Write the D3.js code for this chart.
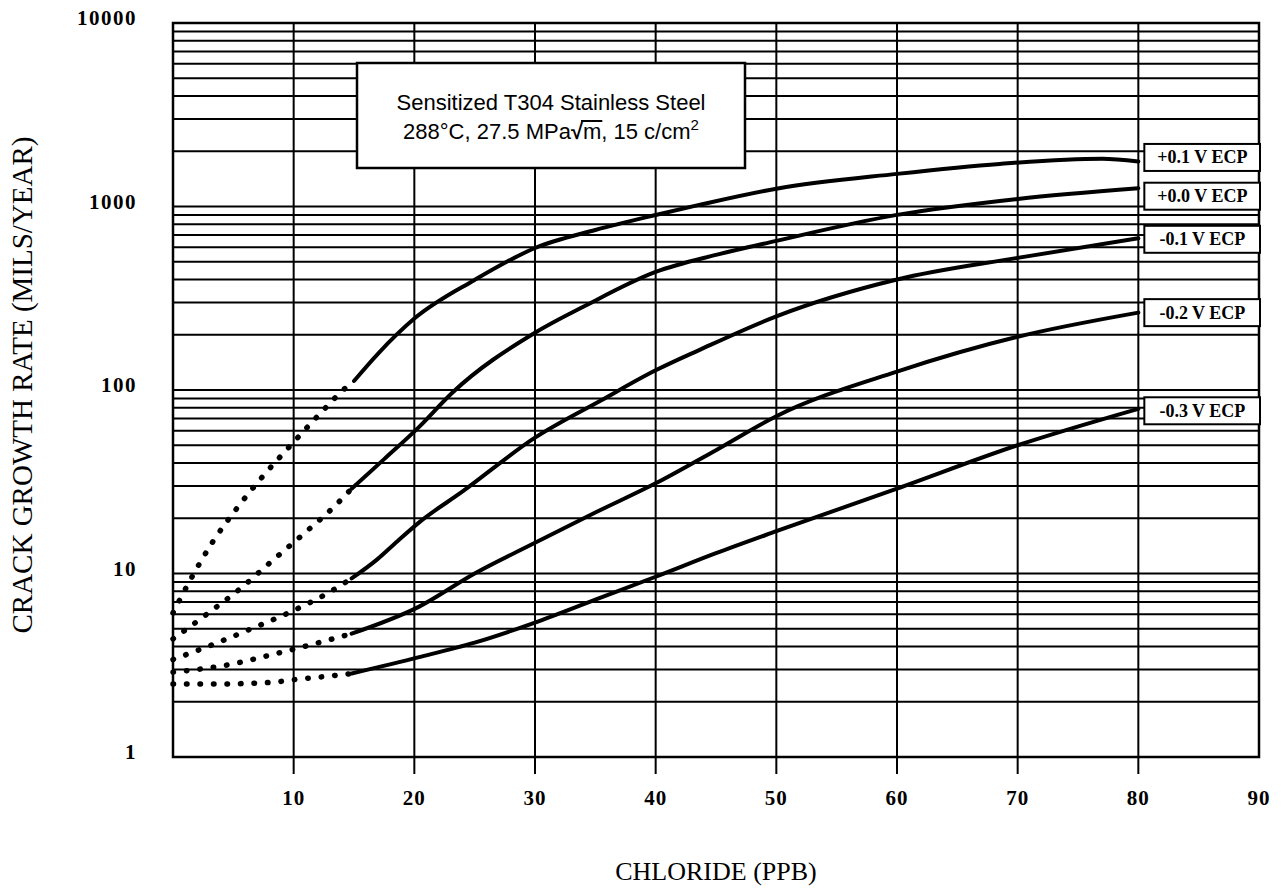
<!DOCTYPE html>
<html lang="en">
<head>
<meta charset="utf-8">
<title>Crack Growth Rate vs Chloride</title>
<script src="https://cdn.jsdelivr.net/npm/d3@7"></script>
<style>
  body { margin: 0; background: #fff; }
  .tick-label { font-family: "Liberation Serif", "Times New Roman", serif; font-weight: bold; font-size: 21px; fill: #000; }
  .axis-title { font-family: "Liberation Serif", "Times New Roman", serif; font-size: 26px; fill: #000; }
  .y-title { font-size: 29px; }
  .note { font-family: "Liberation Sans", Arial, sans-serif; font-size: 22px; fill: #000; }
  .ecp-label { font-family: "Liberation Serif", "Times New Roman", serif; font-weight: bold; font-size: 18px; fill: #000; }
</style>
</head>
<body>
<script>
  // tick labels
  var xTicks = [10, 20, 30, 40, 50, 60, 70, 80, 90];
  var yTicks = [1, 10, 100, 1000, 10000];

  // curve names, right hand side
  var ecpLabels = ["+0.1 V ECP", "+0.0 V ECP", "-0.1 V ECP", "-0.2 V ECP", "-0.3 V ECP"];

  // dotted (extrapolated) parts, [chloride ppb, mils/year]
  var dotP01 = [[0, 6.1], [1.5, 9.4], [3.3, 14.9], [5.3, 22.7], [7.4, 33.6], [9.7, 49.5], [11.9, 71], [14.4, 104], [15, 112]];
  var dotP00 = [[0, 4.4], [2.8, 6.0], [5.6, 8.3], [8.2, 11.7], [10.9, 16.6], [13.4, 23.3], [14.8, 29]];
  var dotM01 = [[0, 3.4], [3.3, 4.1], [6.5, 5.0], [9.8, 6.2], [12.8, 7.8], [14.8, 9.4]];
  var dotM02 = [[0, 2.9], [4.8, 3.2], [8.1, 3.6], [11.5, 4.1], [14.8, 4.7]];
  var dotM03 = [[0, 2.5], [3.4, 2.5], [8.1, 2.55], [10.3, 2.65], [12.7, 2.75], [14.8, 2.85]];

  // solid parts
  var solP01 = [[15, 112], [17, 158], [20, 245], [25, 398], [30, 594], [35, 745], [40, 899], [43.6, 1020], [50, 1250], [60, 1506], [68.5, 1706], [77, 1820], [80, 1760]];
  var solP00 = [[14.8, 29], [17.5, 42], [20.4, 63], [23.1, 96], [30, 205], [34, 284], [40, 440], [45, 545], [50, 650], [60, 900], [70, 1100], [80, 1258]];
  var solM01 = [[14.8, 9.4], [16.9, 11.9], [18.6, 15], [20.4, 19], [24, 28], [30, 55], [35.5, 88], [40, 128], [43.6, 165], [50, 252], [60, 400], [70, 525], [80, 671]];
  var solM02 = [[14.8, 4.7], [20.4, 6.6], [25, 10], [30, 14.7], [35, 21.5], [40, 31], [45, 47], [50, 72], [60, 126], [70, 195], [80, 264]];
  var solM03 = [[14.8, 2.85], [20.4, 3.5], [25, 4.2], [30, 5.4], [35, 7.2], [40, 9.6], [45, 12.9], [50, 17], [60, 29], [70, 50], [80, 79]];

  var dotted = [dotP01, dotP00, dotM01, dotM02, dotM03];
  var solid = [solP01, solP00, solM01, solM02, solM03];

  var w = 1287;
  var h = 892;
  var padding = { left: 173, right: 28, top: 23, bottom: 135 };
  var labelNudge = [-4, 8, 1, 0, 2];

  var xScale = d3.scaleLinear()
    .domain([0, 90])
    .range([padding.left, w - padding.right]);

  var yScale = d3.scaleLog()
    .domain([1, 10000])
    .range([h - padding.bottom, padding.top]);

  var svg = d3.select("body")
    .append("svg")
    .attr("width", w)
    .attr("height", h);

  // horizontal grid: every 1..9 of each decade
  svg.append("g")
    .selectAll("line")
    .data(yScale.ticks())
    .enter()
    .append("line")
    .attr("x1", xScale(0))
    .attr("x2", xScale(90))
    .attr("y1", d => yScale(d))
    .attr("y2", d => yScale(d))
    .attr("stroke", "#000")
    .attr("stroke-width", 2);

  // vertical grid, running a bit under the frame as ticks
  svg.append("g")
    .selectAll("line")
    .data(xTicks.filter(d => d < 90))
    .enter()
    .append("line")
    .attr("x1", d => xScale(d))
    .attr("x2", d => xScale(d))
    .attr("y1", yScale(10000))
    .attr("y2", yScale(1) + 17)
    .attr("stroke", "#000")
    .attr("stroke-width", 2);

  svg.append("rect")
    .attr("x", xScale(0))
    .attr("y", yScale(10000))
    .attr("width", xScale(90) - xScale(0))
    .attr("height", yScale(1) - yScale(10000))
    .attr("fill", "none")
    .attr("stroke", "#000")
    .attr("stroke-width", 2.5);

  // tick labels
  svg.append("g")
    .selectAll("text")
    .data(xTicks)
    .enter()
    .append("text")
    .attr("class", "tick-label")
    .attr("x", d => xScale(d))
    .attr("y", yScale(1) + 48)
    .attr("text-anchor", "middle")
    .attr("letter-spacing", 1)
    .text(d => d);

  svg.append("g")
    .selectAll("text")
    .data(yTicks)
    .enter()
    .append("text")
    .attr("class", "tick-label")
    .attr("x", 137)
    .attr("y", d => yScale(d) + 2)
    .attr("text-anchor", "end")
    .attr("letter-spacing", 1.5)
    .text(d => d);

  // curves
  var line = d3.line()
    .x(d => xScale(d[0]))
    .y(d => yScale(d[1]))
    .curve(d3.curveMonotoneX);

  svg.append("g")
    .selectAll("path")
    .data(dotted)
    .enter()
    .append("path")
    .attr("d", line)
    .attr("fill", "none")
    .attr("stroke", "#000")
    .attr("stroke-width", 5.5)
    .attr("stroke-linecap", "round")
    .attr("stroke-dasharray", "0.5 13");

  svg.append("g")
    .selectAll("path")
    .data(solid)
    .enter()
    .append("path")
    .attr("d", line)
    .attr("fill", "none")
    .attr("stroke", "#000")
    .attr("stroke-width", 4)
    .attr("stroke-linecap", "round");

  // ECP labels at curve ends
  var labels = svg.append("g")
    .selectAll("g")
    .data(ecpLabels)
    .enter()
    .append("g")
    .attr("transform", (d, i) => {
      var last = solid[i][solid[i].length - 1];
      return "translate(" + (xScale(80) + 6) + "," + (yScale(last[1]) + labelNudge[i]) + ")";
    });

  labels.append("rect")
    .attr("x", 0)
    .attr("y", -13.5)
    .attr("width", xScale(90) - xScale(80) - 5)
    .attr("height", 27)
    .attr("fill", "#fff")
    .attr("stroke", "#000")
    .attr("stroke-width", 2);

  labels.append("text")
    .attr("class", "ecp-label")
    .attr("x", 58)
    .attr("y", 6)
    .attr("text-anchor", "middle")
    .text(d => d);

  // note box
  var note = svg.append("g");
  note.append("rect")
    .attr("x", 357)
    .attr("y", 63)
    .attr("width", 388)
    .attr("height", 105)
    .attr("fill", "#fff")
    .attr("stroke", "#000")
    .attr("stroke-width", 2.5);

  note.append("text")
    .attr("class", "note")
    .attr("x", 551)
    .attr("y", 110)
    .attr("text-anchor", "middle")
    .text("Sensitized T304 Stainless Steel");

  var note2 = note.append("text")
    .attr("class", "note")
    .attr("x", 551)
    .attr("y", 139)
    .attr("text-anchor", "middle");
  note2.append("tspan").text("288°C, 27.5 MPa");
  note2.append("tspan").attr("font-weight", "bold").text("√");
  note2.append("tspan").text("m, 15 c/cm");
  note2.append("tspan").attr("dy", -9).style("font-size", "15px").text("2");

  var n2 = note2.node();
  var rootBox = n2.getExtentOfChar(15);
  var mBox = n2.getExtentOfChar(16);
  note.append("line")
    .attr("x1", rootBox.x + rootBox.width - 2)
    .attr("x2", mBox.x + mBox.width + 1)
    .attr("y1", rootBox.y + 2)
    .attr("y2", rootBox.y + 2)
    .attr("stroke", "#000")
    .attr("stroke-width", 2);

  // axis titles
  svg.append("text")
    .attr("class", "axis-title")
    .attr("x", xScale(45))
    .attr("y", 880)
    .attr("text-anchor", "middle")
    .text("CHLORIDE (PPB)");

  svg.append("text")
    .attr("class", "axis-title y-title")
    .attr("transform", "translate(32," + 385 + ") rotate(-90)")
    .attr("text-anchor", "middle")
    .text("CRACK GROWTH RATE (MILS/YEAR)");
</script>
</body>
</html>
